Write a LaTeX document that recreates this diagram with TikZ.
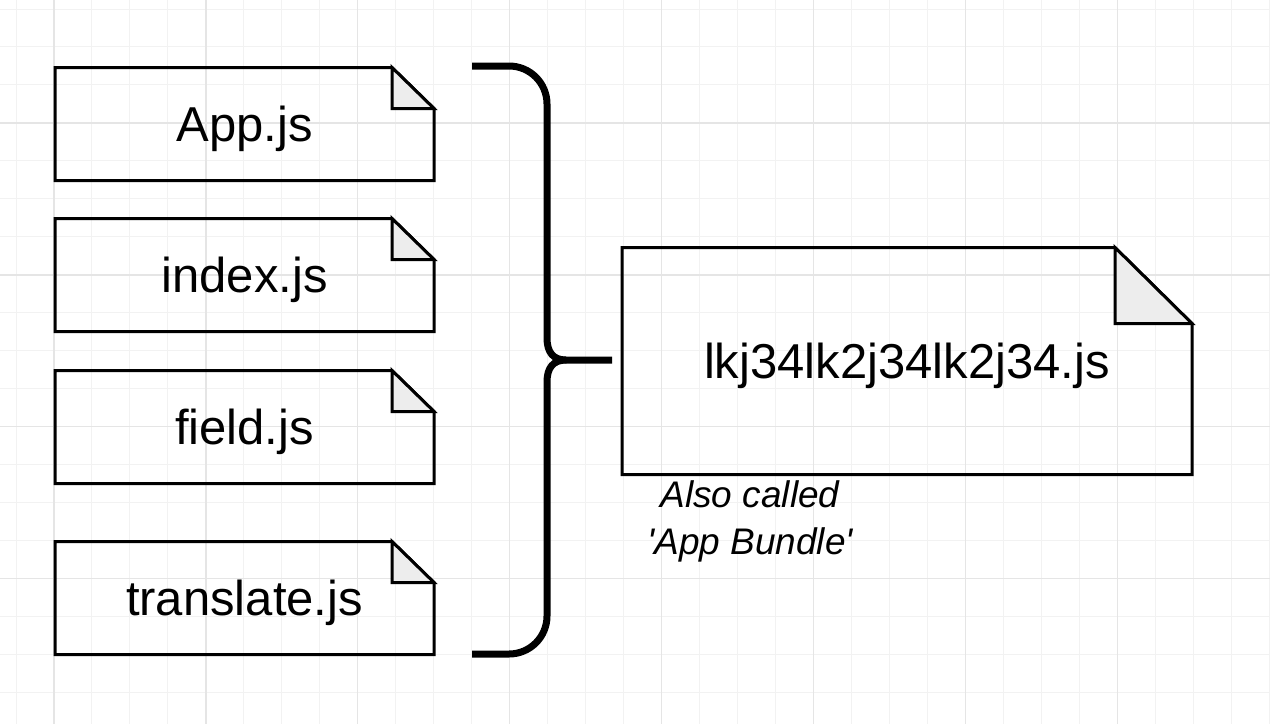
\documentclass[tikz,border=0pt]{standalone}
\usepackage{fontspec}
\setmainfont{Liberation Sans}
\begin{document}
\begin{tikzpicture}[x=1pt,y=-1pt,
  minorgrid/.style={draw=black!5,line width=1pt},
  majorgrid/.style={draw=black!10,line width=1.2pt},
  notenode/.style={rectangle,inner sep=0pt,outer sep=0pt,text depth=0pt,minimum width=379pt,minimum height=113pt,font=\fontsize{49}{56}\selectfont},
  noteline/.style={draw=black,line width=3pt,line join=miter},
  notefold/.style={fill=black!7,draw=black,line width=3pt},
  bracestyle/.style={draw=black,line width=7pt,line join=round},
  caption/.style={align=center,inner sep=0pt,font=\fontsize{37}{47}\selectfont\itshape}]
\useasboundingbox (0,0) rectangle (1270,724);
\fill[white] (0,0) rectangle (1270,724);
% grid
\foreach \i in {0,...,33} {\draw[minorgrid] ({16+\i*37.97},0) -- ({16+\i*37.97},724);}
\foreach \j in {0,...,19} {\draw[minorgrid] (0,{9+\j*37.97}) -- (1270,{9+\j*37.97});}
\foreach \i in {0,...,7} {\draw[majorgrid] ({54+\i*151.9},0) -- ({54+\i*151.9},724);}
\foreach \j in {0,...,3} {\draw[majorgrid] (0,{123+\j*151.9}) -- (1270,{123+\j*151.9});}
% small notes
\node[notenode] (app) at (244.5,124) {App.js};
\node[notenode] (index) at (244.5,275) {index.js};
\node[notenode] (field) at (244.5,427) {field.js};
\node[notenode] (translate) at (244.5,598) {translate.js};
\foreach \n in {app,index,field,translate} {
  \draw[noteline] (\n.north west) -- ([xshift=-42pt]\n.north east) -- ([yshift=-41pt]\n.north east) -- (\n.south east) -- (\n.south west) -- cycle;
  \draw[notefold] ([xshift=-42pt]\n.north east) -- ([xshift=-42pt,yshift=-41pt]\n.north east) -- ([yshift=-41pt]\n.north east) -- cycle;
}
% big note
\node[notenode,minimum width=570pt,minimum height=227pt,font=\fontsize{49}{56}\selectfont] (bundle) at (907,361) {lkj34lk2j34lk2j34.js};
\draw[noteline] (bundle.north west) -- ([xshift=-77pt]bundle.north east) -- ([yshift=-76pt]bundle.north east) -- (bundle.south east) -- (bundle.south west) -- cycle;
\draw[notefold] ([xshift=-77pt]bundle.north east) -- ([xshift=-77pt,yshift=-76pt]bundle.north east) -- ([yshift=-76pt]bundle.north east) -- cycle;
% caption
\node[caption] (cap) at (750,521) {Also called\\\textquotesingle App Bundle\textquotesingle};
% brace
\coordinate (btop) at (472,66);
\coordinate (bbot) at (472,654);
\coordinate (btip) at (612,360);
\draw[bracestyle] (btop) -- (509,66) .. controls (530,66) and (547,83) .. (547,104) -- (547,338)
  .. controls (547,352) and (553,360) .. (566,360) -- (btip);
\draw[bracestyle] (566,360) .. controls (553,360) and (547,368) .. (547,382) -- (547,616)
  .. controls (547,637) and (530,654) .. (509,654) -- (bbot);
\end{tikzpicture}
\end{document}
